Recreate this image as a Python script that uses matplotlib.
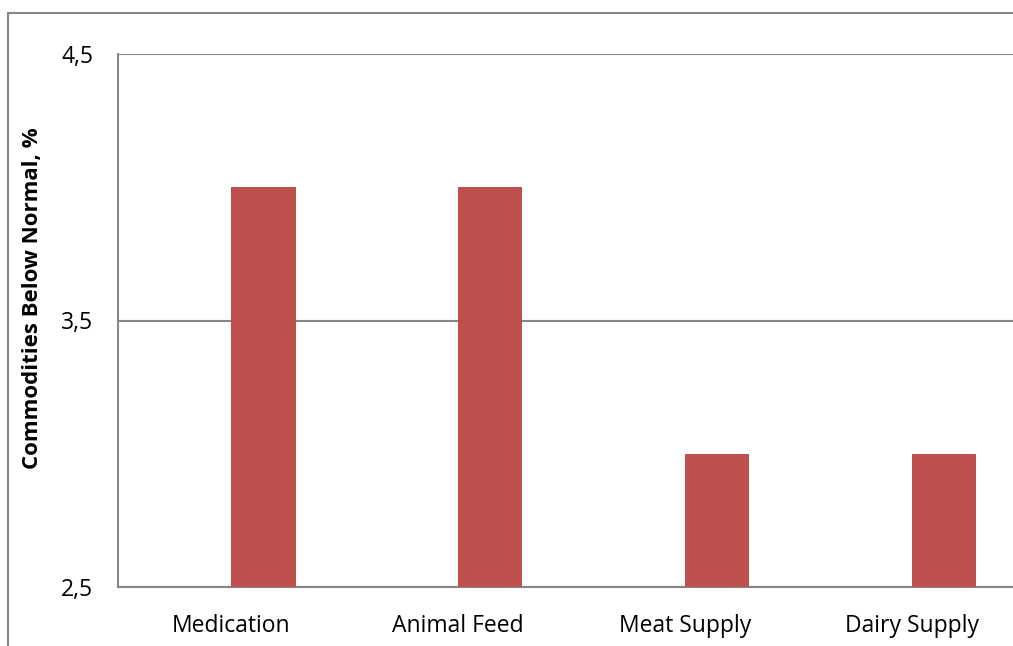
import numpy as np
import matplotlib.pyplot as plt
from matplotlib.patches import Rectangle
from matplotlib.ticker import FuncFormatter

categories = ["Medication", "Animal Feed", "Meat Supply", "Dairy Supply"]
values = [4, 4, 3, 3]
yticks = [2.5, 3.5, 4.5]

plt.rcParams['font.family'] = ['Open Sans', 'DejaVu Sans']

fig = plt.figure(figsize=(10.13, 6.46), dpi=100)
# outer chart border (cut by the image on right / bottom)
fig.patches.append(Rectangle((8 / 1013, -0.1), 1.2, 1 - 13 / 646 + 0.1,
                             transform=fig.transFigure, fill=False,
                             edgecolor="#868686", linewidth=1.5))

ax = fig.add_axes([118 / 1013, 59 / 646, 907 / 1013, 533 / 646])
x = np.arange(len(categories))
bw = 0.283
ax.bar(x, values, width=bw, align="edge", color="#C0504D", bottom=0, zorder=3)

ax.set_xlim(-0.5, len(categories) - 0.5)
ax.set_ylim(2.5, 4.5)
ax.set_yticks(yticks)
ax.yaxis.set_major_formatter(FuncFormatter(lambda v, p: f"{v:.1f}".replace(".", ",")))
ax.set_xticks(x)
ax.set_xticklabels(categories)
ax.tick_params(axis="both", length=0, labelsize=16.5)
ax.tick_params(axis="y", pad=18)
ax.tick_params(axis="x", pad=19.5)
ax.grid(axis="y", color="#868686", linewidth=1.5, zorder=0)
for s in ["top", "right"]:
    ax.spines[s].set_visible(False)
for s in ["left", "bottom"]:
    ax.spines[s].set_color("#868686")
    ax.spines[s].set_linewidth(1.5)
fig.text(33 / 1013, 1 - 298 / 646, "Commodities Below Normal, %", rotation=90,
         ha="center", va="center", fontsize=16, fontweight="bold")

fig.savefig("out.png", dpi=100)
